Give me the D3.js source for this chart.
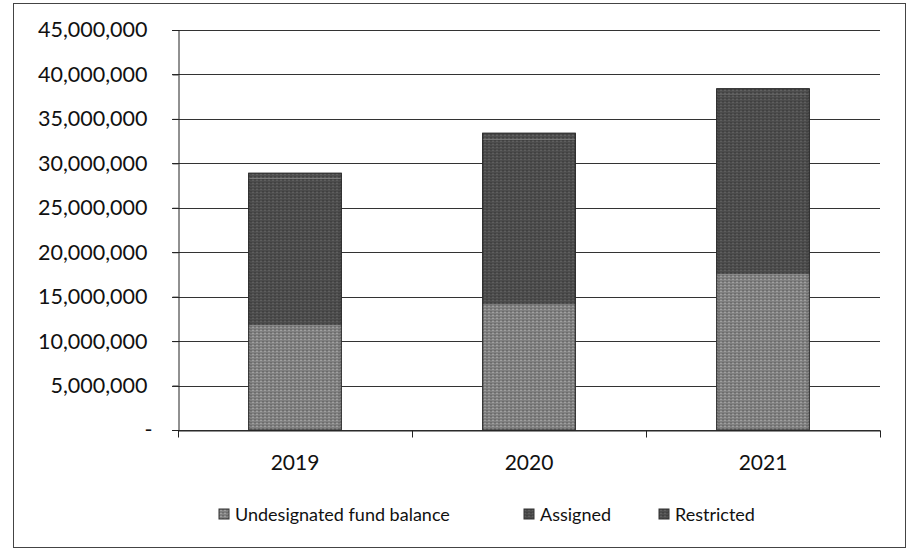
<!DOCTYPE html>
<html><head><meta charset="utf-8">
<script src="https://cdn.jsdelivr.net/npm/d3@7"></script>
<style>body{margin:0;background:#fff}svg{display:block}text{font-family:Lato,"Open Sans",sans-serif;fill:#111}</style>
</head><body><div id="c"></div>
<script>
const categories = ["2019","2020","2021"];
const seriesNames = ["Undesignated fund balance","Assigned","Restricted"];
const undesignated = [11800000, 14100000, 17500000];
const assigned = [16500000, 18600000, 20200000];
const restricted = [600000, 700000, 700000];
const yTicks = [0,5000000,10000000,15000000,20000000,25000000,30000000,35000000,40000000,45000000];
const colors = ["#808080","#4c4c4c","#4e4e4e"];

const W=912,H=550;
const svg=d3.select("#c").append("svg").attr("width",W).attr("height",H);
const defs=svg.append("defs");
colors.forEach((c,i)=>{
  const p=defs.append("pattern").attr("id","p"+i).attr("width",4).attr("height",3).attr("patternUnits","userSpaceOnUse");
  p.append("rect").attr("width",4).attr("height",3).attr("fill",c);
  p.append("rect").attr("x",0).attr("y",0).attr("width",2).attr("height",1).attr("fill",d3.color(c).brighter(0.6));
  p.append("rect").attr("x",2).attr("y",2).attr("width",2).attr("height",1).attr("fill",d3.color(c).darker(0.5));
});
svg.append("rect").attr("x",13.5).attr("y",3.5).attr("width",892).attr("height",544).attr("fill","none").attr("stroke","#444").attr("stroke-width",1);

const m={l:178,r:880,t:30,b:430};
const x=d3.scaleBand().domain(categories).range([m.l,m.r]).paddingInner(0.6).paddingOuter(0.3);
const y=d3.scaleLinear().domain([0,45000000]).range([m.b,m.t]);

const g=svg.append("g");
g.selectAll("line.grid").data(yTicks).join("line").attr("class","grid")
 .attr("x1",m.l-6).attr("x2",m.r).attr("y1",d=>Math.round(y(d))+0.5).attr("y2",d=>Math.round(y(d))+0.5)
 .attr("stroke","#333").attr("stroke-width",1);

const data=categories.map((c,i)=>({cat:c,"Undesignated fund balance":undesignated[i],"Assigned":assigned[i],"Restricted":restricted[i]}));
const stack=d3.stack().keys(seriesNames)(data);
stack.forEach((s,si)=>{
  g.selectAll(null).data(s).join("rect")
   .attr("x",d=>x(d.data.cat)).attr("width",x.bandwidth())
   .attr("y",d=>y(d[1])).attr("height",d=>y(d[0])-y(d[1]))
   .attr("fill","url(#p"+si+")");
});
g.selectAll(null).data(categories).join("rect")
 .attr("x",d=>x(d)+0.5).attr("y",(d,i)=>y(undesignated[i]+assigned[i]+restricted[i])).attr("width",x.bandwidth()-1)
 .attr("height",(d,i)=>y(0)-y(undesignated[i]+assigned[i]+restricted[i]))
 .attr("fill","none").attr("stroke","#222").attr("stroke-width",1);

const ya=d3.axisLeft(y).tickValues(yTicks).tickSize(6).tickFormat(d=>d===0?"-":d3.format(",")(d));
const yg=svg.append("g").attr("transform",`translate(${m.l+0.5},0)`).call(ya);
yg.select(".domain").attr("stroke","#222");
yg.selectAll(".tick line").attr("stroke","#222");
yg.selectAll(".tick text").attr("x",-31).style("font-size","21.5px").style("font-family","Lato,'Open Sans',sans-serif").attr("fill","#111");
yg.selectAll(".tick").filter(d=>d===0).select("text").attr("x",-26);

const xa=d3.axisBottom(x).tickSize(0).tickPadding(25);
const xg=svg.append("g").attr("transform",`translate(0,${m.b+0.5})`).call(xa);
xg.select(".domain").attr("stroke","#222");
xg.selectAll(".tick text").style("font-size","21px").style("font-family","Lato,'Open Sans',sans-serif").attr("fill","#111");
const step=x.step();
const bounds=[m.l, ...categories.slice(0,-1).map(c=>x(c)+x.bandwidth()+step*x.paddingInner()/2), m.r];
xg.selectAll("line.xt").data(bounds).join("line").attr("class","xt")
 .attr("x1",d=>Math.round(d)+0.5).attr("x2",d=>Math.round(d)+0.5).attr("y1",0).attr("y2",7).attr("stroke","#222");

const legX=[219,524,659];
const lg=svg.append("g");
seriesNames.forEach((n,i)=>{
  lg.append("rect").attr("x",legX[i]).attr("y",509).attr("width",10).attr("height",10).attr("fill","url(#p"+i+")").attr("stroke","#333");
  lg.append("text").attr("x",legX[i]+16).attr("y",521).style("font-size","18px").text(n);
});
</script></body></html>
